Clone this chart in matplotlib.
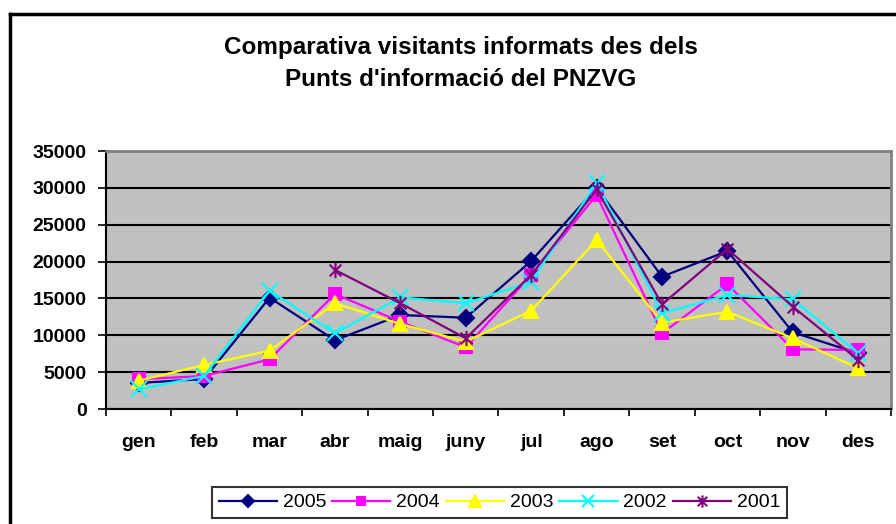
import matplotlib
matplotlib.use("Agg")
import matplotlib.pyplot as plt
import numpy as np
from matplotlib.path import Path
from matplotlib.lines import Line2D

plt.rcParams['font.family'] = ['Liberation Sans', 'DejaVu Sans']

months = ['gen', 'feb', 'mar', 'abr', 'maig', 'juny', 'jul', 'ago', 'set', 'oct', 'nov', 'des']
v2005 = [3530, 4070, 15100, 9320, 12750, 12380, 20080, 30020, 17950, 21430, 10400, 7550]
v2004 = [4030, 4480, 6740, 15600, 11840, 8370, 18180, 29030, 10270, 16920, 8100, 8000]
v2003 = [3840, 5970, 7910, 14340, 11530, 9130, 13340, 22930, 11710, 13200, 9590, 5520]
v2002 = [2670, 4480, 16050, 10270, 15150, 14340, 17270, 30700, 12980, 15460, 14880, 7550]
v2001 = [None, None, None, 18860, 14340, 9590, 18180, 29800, 14200, 21700, 13880, 6650]
yticks = [0, 5000, 10000, 15000, 20000, 25000, 30000, 35000]
title = "Comparativa visitants informats des dels\nPunts d'informació del PNZVG"

star = Path([(-1, -1), (1, 1), (-1, 1), (1, -1), (0, -1.3), (0, 1.3)],
            [Path.MOVETO, Path.LINETO, Path.MOVETO, Path.LINETO, Path.MOVETO, Path.LINETO])

series = [
    ('2005', v2005, '#000080', 'D', 8, '#000080'),
    ('2004', v2004, '#FF00FF', 's', 8, '#FF00FF'),
    ('2003', v2003, '#FFFF00', '^', 10, '#FFFF00'),
    ('2002', v2002, '#00FFFF', 'x', 11, '#00FFFF'),
    ('2001', v2001, '#800080', star, 11, '#800080'),
]

fig = plt.figure(figsize=(8.96, 5.24), dpi=100)
W, H = 896, 524
ax = fig.add_axes([106 / W, 1 - 409 / H, (891 - 106) / W, (409 - 151) / H])
ax.set_facecolor('#C0C0C0')

x = np.arange(len(months)) + 0.5
for name, vals, col, mk, ms, mfc in series:
    arr = np.array([np.nan if v is None else v for v in vals], dtype=float)
    ax.plot(x, arr, color=col, lw=1.6, marker=mk, ms=ms, mfc=mfc, mec=col,
            mew=1.5, label=name, zorder=3)

ax.set_xlim(0, 12)
ax.set_ylim(0, 35000)
ax.set_yticks(yticks)
ax.set_yticklabels([str(t) for t in yticks], fontsize=14, fontweight='bold')
ax.yaxis.grid(True, color='black', lw=1.5, zorder=1)
ax.set_axisbelow(True)
ax.set_xticks(np.arange(0, 13))
ax.set_xticklabels([])
ax.set_xticks(x, minor=True)
ax.set_xticklabels(months, minor=True, fontsize=14, fontweight='bold')
ax.tick_params(axis='x', which='major', length=5, width=1.2, direction='out')
ax.tick_params(axis='x', which='minor', length=0, pad=18)
ax.tick_params(axis='y', length=6, width=1.2, pad=8)
for s in ['left', 'bottom']:
    ax.spines[s].set_color('black')
    ax.spines[s].set_linewidth(1.5)
for s in ['top', 'right']:
    ax.spines[s].set_color('#808080')
    ax.spines[s].set_linewidth(2)

fig.text(461 / W, 1 - 63.5 / H, title, ha='center', va='center', fontsize=17.5,
         fontweight='bold', linespacing=1.5)

# outer chart border
fig.add_artist(Line2D([10 / W, 1], [1 - 13.5 / H, 1 - 13.5 / H], color='black', lw=2.5))
fig.add_artist(Line2D([10 / W, 10 / W], [0, 1 - 13.5 / H], color='black', lw=2.5))

leg = fig.legend(loc='center', bbox_to_anchor=(499.5 / W, 1 - 502.5 / H), ncol=5,
                 fontsize=14, frameon=True, fancybox=False, edgecolor='black',
                 handlelength=3, columnspacing=0.3, handletextpad=0.3,
                 borderpad=0.35, borderaxespad=0, markerscale=0.8)
leg.get_frame().set_linewidth(1.5)

fig.savefig('out.png', dpi=100)
